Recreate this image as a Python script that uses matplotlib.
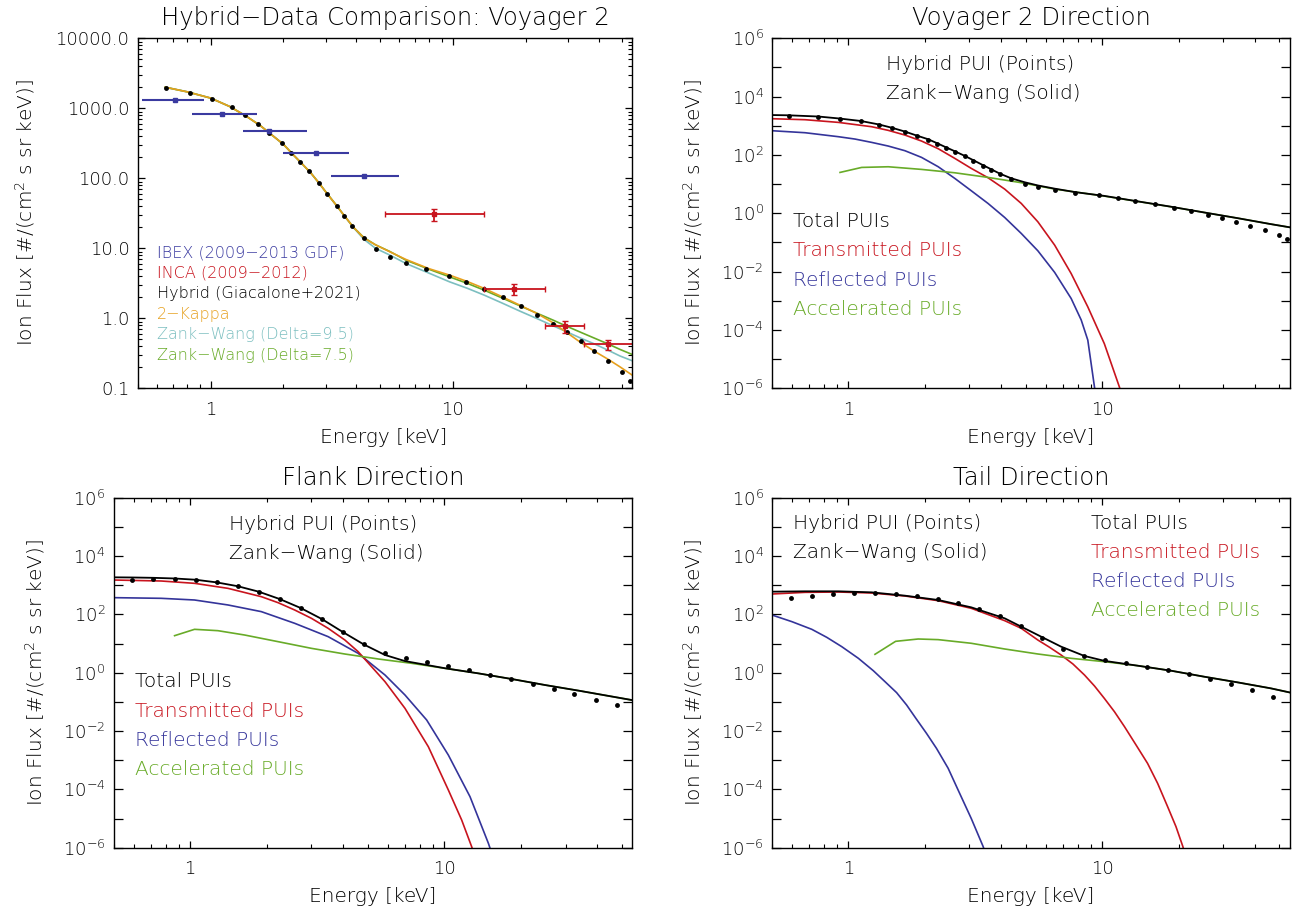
import numpy as np
import matplotlib
matplotlib.use("Agg")
import matplotlib.pyplot as plt
from matplotlib.ticker import FixedLocator, FuncFormatter, NullFormatter, LogLocator, NullLocator

plt.rcParams['font.family'] = ['DejaVu Sans']
plt.rcParams['font.weight'] = 'light'
plt.rcParams['mathtext.fontset'] = 'custom'
plt.rcParams['mathtext.rm'] = 'DejaVu Sans:light'
plt.rcParams['mathtext.it'] = 'DejaVu Sans:light'
plt.rcParams['mathtext.default'] = 'rm'

# ---------------- Panel 1: Hybrid-Data comparison (Voyager 2) ----------------
hyb1_E = [0.654, 0.822, 1.015, 1.221, 1.381, 1.566, 1.751, 1.967, 2.143, 2.334, 2.543, 2.803,
          3.036, 3.324, 3.566, 3.835, 4.286, 4.834, 5.52, 6.43, 7.79, 9.67, 11.39, 13.47, 16.07,
          19.18, 22.34, 26.0, 29.7, 33.8, 38.5, 43.8, 49.9, 54.2]
hyb1_F = [1977, 1678, 1377, 1037, 796, 598, 440, 320, 232, 173, 127, 85.7, 60.2, 40.2, 28.9,
          20.8, 14.1, 9.74, 7.55, 6.14, 4.99, 3.96, 3.28, 2.61, 1.99, 1.49, 1.107, 0.832, 0.647,
          0.481, 0.346, 0.249, 0.171, 0.127]

fit1_E = [0.65, 0.8, 1.0, 1.2, 1.4, 1.6, 1.8, 2.0, 2.2, 2.4, 2.6, 2.8, 3.0, 3.3, 3.6, 3.9, 4.3,
          4.8, 5.5, 6.4, 8.0, 9.7, 11.5, 13.5, 16.0, 19.0, 22.3, 26.0, 29.3, 33.8, 38.5, 43.8, 49.0, 55.0]
kappa_F = [2000, 1720, 1400, 1060, 775, 570, 410, 305, 215, 158, 118, 86, 63, 41.5, 28, 19.8, 14.0,
           11.2, 8.9, 6.94, 5.1, 4.14, 3.35, 2.67, 2.03, 1.53, 1.17, 0.86, 0.64, 0.45, 0.338, 0.26, 0.203, 0.155]
zw75_F = [2000, 1720, 1400, 1060, 775, 570, 410, 305, 215, 158, 118, 86, 63, 41.5, 28, 19.8, 14.2,
          11.2, 9.0, 6.78, 5.0, 3.91, 3.15, 2.52, 1.95, 1.50, 1.18, 0.94, 0.78, 0.63, 0.52, 0.43, 0.36, 0.305]
zw95_F = [2000, 1720, 1400, 1060, 775, 570, 410, 305, 215, 158, 118, 86, 63, 41.5, 28, 19.6, 13.4,
          10.0, 8.0, 6.08, 4.4, 3.32, 2.68, 2.14, 1.65, 1.26, 0.99, 0.78, 0.65, 0.52, 0.43, 0.35, 0.29, 0.248]

ibex_E = [0.71, 1.11, 1.74, 2.73, 4.29]
ibex_F = [1318, 840, 480, 230, 108]
ibex_Elo = [0.52, 0.84, 1.36, 1.99, 3.13]
ibex_Ehi = [0.94, 1.55, 2.49, 3.73, 6.0]

inca_E = [8.35, 17.96, 28.97, 43.8]
inca_F = [30.5, 2.61, 0.779, 0.426]
inca_Flo = [24.7, 2.14, 0.626, 0.350]
inca_Fhi = [36.0, 3.05, 0.918, 0.497]
inca_Elo = [5.23, 13.5, 24.0, 35.0]
inca_Ehi = [13.5, 24.0, 35.0, 58.0]

legend1_labels = ["IBEX (2009\u22122013 GDF)", "INCA (2009\u22122012)", "Hybrid (Giacalone+2021)",
                  "2\u2212Kappa", "Zank\u2212Wang (Delta=9.5)", "Zank\u2212Wang (Delta=7.5)"]

# ---------------- Panel 2: Voyager 2 direction ----------------
p2_E = [0.581, 0.762, 0.927, 1.121, 1.320, 1.489, 1.670, 1.856, 2.064, 2.239, 2.421, 2.627, 2.875,
        3.11, 3.405, 3.662, 3.947, 4.386, 4.95, 5.585, 6.53, 7.85, 9.76, 11.52, 13.52, 16.16, 19.24,
        22.39, 26.02, 29.62, 33.74, 38.43, 43.75, 49.8, 53.7]
p2_F = [2218, 1995, 1695, 1418, 1062, 815, 610, 444, 333, 243, 177, 129, 89.3, 63.4, 41.6, 30.3,
        21.5, 14.5, 10.0, 7.92, 6.41, 5.06, 4.10, 3.41, 2.69, 2.07, 1.55, 1.16, 0.891, 0.684, 0.513,
        0.364, 0.258, 0.183, 0.134]
p2_tot_E = [0.5, 0.581, 0.762, 0.927, 1.121, 1.32, 1.489, 1.67, 1.856, 2.064, 2.239, 2.421, 2.627,
            2.875, 3.11, 3.405, 3.662, 3.947, 4.386, 4.95, 5.585, 6.5, 7.85, 10.2, 13.8, 18.7, 25.2,
            34.1, 46.2, 55.3]
p2_tot_F = [2338, 2290, 2080, 1770, 1460, 1110, 850, 635, 465, 345, 252, 184, 134, 93, 66, 44, 32,
            23, 15.8, 11.6, 9.0, 7.0, 5.3, 3.95, 2.57, 1.68, 1.07, 0.684, 0.426, 0.327]
p2_tra_E = [0.5, 0.675, 0.913, 1.235, 1.436, 1.670, 1.942, 2.259, 2.627, 3.05, 3.55, 4.13, 4.80,
            5.58, 6.50, 7.55, 8.78, 10.2, 11.7, 12.0]
p2_tra_F = [1750, 1618, 1309, 930, 697, 482, 300, 164, 76.3, 34.6, 16.6, 6.76, 2.18, 0.512, 0.081,
            8.6e-3, 6.2e-4, 3.4e-5, 1.1e-6, 5e-7]
p2_ref_E = [0.5, 0.675, 0.913, 1.062, 1.235, 1.436, 1.670, 1.942, 2.259, 2.627, 3.05, 3.55, 4.13,
            4.80, 5.58, 6.50, 7.55, 8.27, 8.78, 9.33, 9.5]
p2_ref_F = [678, 579, 423, 351, 270, 202, 140, 82.6, 39.5, 15.7, 5.93, 2.18, 0.72, 0.204, 0.0519,
            9.4e-3, 1.2e-3, 2.2e-4, 4.5e-5, 1.1e-6, 4e-7]
p2_acc_E = [0.927, 1.128, 1.436, 1.942, 2.627, 3.55, 4.80, 6.50, 10.2, 13.8, 18.7, 25.2, 34.1, 46.2, 55.3]
p2_acc_F = [25.2, 37.4, 39.4, 32.0, 24.5, 17.0, 11.2, 6.77, 3.89, 2.55, 1.67, 1.07, 0.684, 0.426, 0.327]

# ---------------- Panel 3: Flank direction ----------------
p3_E = [0.591, 0.717, 0.868, 1.050, 1.270, 1.537, 1.860, 2.249, 2.722, 3.295, 3.986, 4.82, 5.84,
        7.06, 8.54, 10.37, 12.55, 15.18, 18.37, 22.23, 26.9, 32.5, 39.4, 47.6]
p3_F = [1549, 1633, 1633, 1507, 1253, 939, 600, 336, 165, 69.3, 24.8, 9.63, 4.73, 3.19, 2.33, 1.74,
        1.24, 0.855, 0.592, 0.410, 0.269, 0.181, 0.116, 0.076]
p3_tot_E = [0.5, 0.591, 0.717, 0.868, 1.05, 1.27, 1.537, 1.86, 2.249, 2.722, 3.295, 3.986, 4.82,
            5.84, 7.0, 8.5, 10.06, 13.6, 18.4, 24.9, 33.8, 54.8]
p3_tot_F = [1862, 1840, 1790, 1700, 1540, 1250, 925, 600, 336, 165, 69.3, 24.8, 9.3, 4.05, 2.5,
            1.85, 1.42, 0.95, 0.608, 0.378, 0.242, 0.115]
p3_tra_E = [0.5, 0.769, 1.040, 1.408, 1.905, 2.216, 2.578, 3.0, 3.49, 4.06, 4.58, 5.84, 7.0, 8.65,
            10.37, 11.7, 12.8, 13.2]
p3_tra_F = [1507, 1393, 1159, 780, 404, 252, 141, 73.1, 33.2, 13.2, 5.26, 0.493, 0.060, 2.9e-3,
            9.5e-5, 8.9e-6, 1.1e-6, 5e-7]
p3_ref_E = [0.5, 0.769, 1.040, 1.408, 1.905, 2.578, 3.49, 4.58, 5.84, 7.0, 8.52, 10.37, 12.62, 14.91, 15.85]
p3_ref_F = [374, 355, 311, 210, 124, 49.3, 17.2, 4.61, 0.834, 0.172, 0.0239, 1.5e-3, 5.6e-5, 1.4e-6, 2.9e-7]
p3_acc_E = [0.868, 1.040, 1.285, 1.637, 2.216, 3.0, 4.06, 5.50, 7.43, 10.06, 13.6, 18.4, 24.9, 33.8, 54.8]
p3_acc_F = [18.6, 30.7, 27.6, 19.6, 11.6, 6.84, 4.37, 2.95, 2.10, 1.41, 0.95, 0.608, 0.378, 0.242, 0.115]

# ---------------- Panel 4: Tail direction ----------------
p4_E = [0.593, 0.717, 0.868, 1.049, 1.269, 1.535, 1.856, 2.245, 2.715, 3.28, 3.97, 4.80, 5.81, 7.03,
        8.50, 10.28, 12.43, 15.07, 18.23, 22.05, 26.7, 32.3, 39.0, 47.2]
p4_F = [374, 438, 499, 526, 526, 486, 415, 336, 245, 157, 85.5, 38.9, 15.9, 6.67, 3.84, 2.72, 2.10,
        1.61, 1.21, 0.902, 0.624, 0.421, 0.255, 0.147]
p4_tot_E = [0.5, 0.675, 0.913, 1.235, 1.670, 2.259, 3.05, 4.13, 5.58, 6.89, 8.52, 10.2, 13.8, 18.7,
            25.2, 34.1, 46.2, 55.3]
p4_tot_F = [600, 617, 617, 569, 438, 311, 174, 73.1, 19.6, 7.82, 3.74, 2.55, 1.74, 1.17, 0.731,
            0.468, 0.291, 0.207]
p4_tra_E = [0.5, 0.675, 0.913, 1.235, 1.670, 2.259, 3.05, 4.13, 4.80, 5.58, 6.21, 6.89, 7.67, 8.52,
            9.33, 10.2, 11.18, 12.25, 13.61, 15.1, 16.55, 18.1, 19.54, 20.8, 21.3]
p4_tra_F = [499, 569, 584, 540, 426, 295, 161, 60.8, 33.2, 13.2, 7.41, 4.05, 1.99, 0.834, 0.35,
            0.132, 0.0461, 0.0141, 3.3e-3, 7.8e-4, 1.6e-4, 2.6e-5, 5.3e-6, 1.1e-6, 5e-7]
p4_ref_E = [0.5, 0.599, 0.7175, 0.822, 0.9414, 1.095, 1.254, 1.394, 1.549, 1.696, 1.845, 2.032,
            2.224, 2.472, 2.705, 3.05, 3.396, 3.5]
p4_ref_F = [95, 56.2, 30.7, 16.3, 7.82, 3.11, 1.17, 0.493, 0.207, 0.0782, 0.0272, 8.3e-3, 2.55e-3,
            5.3e-4, 9.6e-5, 1.0e-5, 1.1e-6, 5e-7]
p4_acc_E = [1.273, 1.535, 1.884, 2.259, 3.05, 4.13, 5.58, 7.55, 10.2, 13.8, 18.7, 25.2, 34.1, 46.2, 55.3]
p4_acc_F = [4.27, 11.9, 14.3, 13.6, 10.2, 6.5, 4.38, 3.11, 2.39, 1.74, 1.17, 0.731, 0.468, 0.291, 0.207]

pui_labels = ["Total PUIs", "Transmitted PUIs", "Reflected PUIs", "Accelerated PUIs"]
titles = ["Hybrid\u2212Data Comparison: Voyager 2", "Voyager 2 Direction", "Flank Direction", "Tail Direction"]

# ---------------- style ----------------
RED = "#c8141e"
BLUE = "#34349a"
GREEN = "#68ab28"
ORANGE = "#e6a01e"
TEAL = "#7cbfc0"
IBEXC = "#3a3aa0"
BLACK = "black"

W, H = 1301, 911
fig = plt.figure(figsize=(W / 100, H / 100), dpi=100)


def add_axes_px(x0, y0, x1, y1):
    return fig.add_axes([x0 / W, 1 - y1 / H, (x1 - x0) / W, (y1 - y0) / H])


def ftext(x, y, s, **kw):
    fig.text(x / W, 1 - y / H, s, **kw)


YLAB = "Ion Flux [#/(cm$^2$ s sr keV)]"
XLAB = "Energy [keV]"
TICK_FS = 13
LAB_FS = 14.5
TITLE_FS = 17.5


def common_x(ax):
    ax.set_xscale('log')
    ax.set_yscale('log')
    ax.set_xlim(0.5, 55)
    ax.xaxis.set_major_locator(FixedLocator([1, 10]))
    ax.xaxis.set_minor_locator(LogLocator(base=10, subs=np.arange(2, 10), numticks=30))
    ax.xaxis.set_major_formatter(FuncFormatter(lambda v, p: f"{v:g}"))
    ax.xaxis.set_minor_formatter(NullFormatter())
    ax.tick_params(axis='x', which='major', direction='in', top=True, bottom=True,
                   length=5.2, width=0.9, labelsize=TICK_FS, pad=9)
    ax.tick_params(axis='x', which='minor', direction='in', top=True, bottom=True,
                   length=2.9, width=0.8)
    for sp in ax.spines.values():
        sp.set_linewidth(1.0)


def pow_fmt(v, p):
    k = int(round(np.log10(v)))
    if k % 2 == 0:
        return f"$10^{{{k}}}$"
    return ""


# ---- Panel 1
ax1 = add_axes_px(137.7, 38.3, 632, 388.3)
common_x(ax1)
ax1.set_ylim(0.1, 1e4)
ax1.yaxis.set_major_locator(FixedLocator([0.1, 1, 10, 100, 1000, 10000]))
ax1.yaxis.set_minor_locator(LogLocator(base=10, subs=np.arange(2, 10), numticks=30))
ax1.yaxis.set_major_formatter(FuncFormatter(lambda v, p: f"{v:.1f}"))
ax1.yaxis.set_minor_formatter(NullFormatter())
ax1.tick_params(axis='y', which='major', direction='in', left=True, right=True,
                length=5.2, width=0.9, labelsize=TICK_FS, pad=6)
ax1.tick_params(axis='y', which='minor', direction='in', left=True, right=True,
                length=2.9, width=0.8)

ax1.plot(fit1_E, zw95_F, color=TEAL, lw=1.2)
ax1.plot(fit1_E, zw75_F, color=GREEN, lw=1.2)
ax1.plot(fit1_E, kappa_F, color=ORANGE, lw=1.2)
ax1.plot(hyb1_E, hyb1_F, 'o', color=BLACK, ms=3.5, mec='none')
ibE = np.array(ibex_E)
ax1.errorbar(ibex_E, ibex_F, xerr=[ibE - np.array(ibex_Elo), np.array(ibex_Ehi) - ibE],
             fmt='s', color=IBEXC, ms=3.5, lw=1.5, capsize=0)
inE = np.array(inca_E)
inF = np.array(inca_F)
ax1.errorbar(inca_E, inca_F, xerr=[inE - np.array(inca_Elo), np.array(inca_Ehi) - inE],
             yerr=[inF - np.array(inca_Flo), np.array(inca_Fhi) - inF],
             fmt='s', color=RED, ms=2.5, lw=1.3, capsize=2.5, capthick=1.0)

leg_cols = [IBEXC, RED, BLACK, ORANGE, TEAL, GREEN]
for i, (lab, c) in enumerate(zip(legend1_labels, leg_cols)):
    ax1.text(0.039, 0.387 - i * 0.0585, lab, color=c, fontsize=11.5, transform=ax1.transAxes,
             ha='left', va='center')


# ---- Panels 2-4
def pui_panel(ax, E, F, tot, tra, ref, acc):
    common_x(ax)
    ax.set_ylim(1e-6, 1e6)
    ax.yaxis.set_major_locator(FixedLocator([10.0 ** k for k in range(-6, 7)]))
    ax.yaxis.set_minor_locator(NullLocator())
    ax.yaxis.set_major_formatter(FuncFormatter(pow_fmt))
    ax.tick_params(axis='y', which='major', direction='in', left=True, right=True,
                   length=6.5, width=0.9, labelsize=TICK_FS, pad=6)
    ax.plot(ref[0], ref[1], color=BLUE, lw=1.2)
    ax.plot(tra[0], tra[1], color=RED, lw=1.2)
    ax.plot(acc[0], acc[1], color=GREEN, lw=1.2)
    ax.plot(tot[0], tot[1], color=BLACK, lw=1.3)
    ax.plot(E, F, 'o', color=BLACK, ms=3.5, mec='none')


ax2 = add_axes_px(772, 38.3, 1290, 388.3)
pui_panel(ax2, p2_E, p2_F, (p2_tot_E, p2_tot_F), (p2_tra_E, p2_tra_F),
          (p2_ref_E, p2_ref_F), (p2_acc_E, p2_acc_F))
ax3 = add_axes_px(113.7, 497.7, 632.5, 847.7)
pui_panel(ax3, p3_E, p3_F, (p3_tot_E, p3_tot_F), (p3_tra_E, p3_tra_F),
          (p3_ref_E, p3_ref_F), (p3_acc_E, p3_acc_F))
ax4 = add_axes_px(772, 497.7, 1290, 847.7)
pui_panel(ax4, p4_E, p4_F, (p4_tot_E, p4_tot_F), (p4_tra_E, p4_tra_F),
          (p4_ref_E, p4_ref_F), (p4_acc_E, p4_acc_F))

pui_cols = [BLACK, RED, BLUE, GREEN]
PFS = 14.5
# Panel 2 texts
ax2.text(0.22, 0.926, "Hybrid PUI (Points)", fontsize=PFS, transform=ax2.transAxes, va='center')
ax2.text(0.22, 0.843, "Zank\u2212Wang (Solid)", fontsize=PFS, transform=ax2.transAxes, va='center')
for i, (lab, c) in enumerate(zip(pui_labels, pui_cols)):
    ax2.text(0.04, 0.476 - i * 0.0835, lab, color=c, fontsize=PFS, transform=ax2.transAxes, va='center')
# Panel 3 texts
ax3.text(0.222, 0.924, "Hybrid PUI (Points)", fontsize=PFS, transform=ax3.transAxes, va='center')
ax3.text(0.222, 0.841, "Zank\u2212Wang (Solid)", fontsize=PFS, transform=ax3.transAxes, va='center')
for i, (lab, c) in enumerate(zip(pui_labels, pui_cols)):
    ax3.text(0.0405, 0.474 - i * 0.0835, lab, color=c, fontsize=PFS, transform=ax3.transAxes, va='center')
# Panel 4 texts
ax4.text(0.04, 0.927, "Hybrid PUI (Points)", fontsize=PFS, transform=ax4.transAxes, va='center')
ax4.text(0.04, 0.843, "Zank\u2212Wang (Solid)", fontsize=PFS, transform=ax4.transAxes, va='center')
for i, (lab, c) in enumerate(zip(pui_labels, pui_cols)):
    ax4.text(0.616, 0.927 - i * 0.0835, lab, color=c, fontsize=PFS, transform=ax4.transAxes, va='center')

# Titles and axis labels
title_pos = [(385, 18), (1031, 18), (373, 478), (1031, 478)]
xlab_pos = [(384, 437), (1031, 437), (373, 897), (1031, 897)]
ylab_pos = [(25, 213), (693, 213), (35, 673), (693, 673)]
for t, tp, xp, yp in zip(titles, title_pos, xlab_pos, ylab_pos):
    ftext(tp[0], tp[1], t, fontsize=TITLE_FS, ha='center', va='center')
    ftext(xp[0], xp[1], XLAB, fontsize=LAB_FS, ha='center', va='center')
    ftext(yp[0], yp[1], YLAB, fontsize=LAB_FS, ha='center', va='center', rotation=90)

fig.savefig("out.png", dpi=100)
